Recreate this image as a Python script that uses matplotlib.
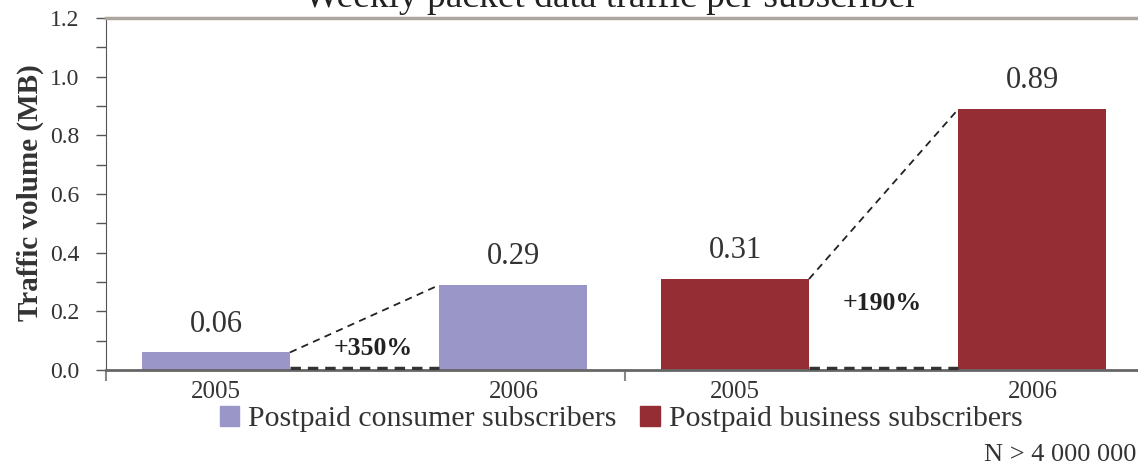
import matplotlib
matplotlib.use('Agg')
import matplotlib.pyplot as plt
from matplotlib.patches import Patch

plt.rcParams['font.family'] = ['Liberation Serif', 'DejaVu Serif']

# data
groups = ['Postpaid consumer subscribers', 'Postpaid business subscribers']
years = ['2005', '2006', '2005', '2006']
values = [0.06, 0.29, 0.31, 0.89]
value_labels = ['0.06', '0.29', '0.31', '0.89']
growth = ['+350%', '+190%']
colors = ['#9b96c8', '#952d35']

# bar layout inside each group (group width = 1)
offsets = [0.212, 0.785]
width = 0.285

fig = plt.figure(figsize=(11.38, 4.69), dpi=100)
ax = fig.add_axes([106 / 1138, 99 / 469, 1038 / 1138, 352 / 469])

xs = []
for g in range(2):
    for o in offsets:
        xs.append(g + o)
bar_colors = [colors[0], colors[0], colors[1], colors[1]]
ax.bar(xs, values, width=width, color=bar_colors, zorder=2)

for x, v, lab in zip(xs, values, value_labels):
    ax.annotate(lab, (x, v), xytext=(0, 15), textcoords='offset points',
                ha='center', va='baseline', fontsize=22, color='#333333')

# dashed connectors and growth labels
growth_pos = [(0.515, 0.075), (1.495, 0.228)]
for g in range(2):
    i0, i1 = 2 * g, 2 * g + 1
    x0 = xs[i0] + width / 2
    x1 = xs[i1] - width / 2
    ax.plot([x0, x1], [values[i0], values[i1]], ls=(0, (4, 3)), lw=1.3,
            color='#222222', zorder=3)
    ax.plot([x0, x1], [0.008, 0.008], ls=(0, (3, 2)), lw=2.5,
            color='#333333', zorder=3)
    gx, gy = growth_pos[g]
    ax.text(gx, gy, growth[g], ha='center', va='center',
            fontsize=18.5, fontweight='bold', color='#222222')

ax.set_xlim(0, 2)
ax.set_ylim(0, 1.2)
ax.set_yticks([0, 0.2, 0.4, 0.6, 0.8, 1.0, 1.2])
ax.set_yticklabels(['0.0', '0.2', '0.4', '0.6', '0.8', '1.0', '1.2'])
ax.set_yticks([0.1, 0.3, 0.5, 0.7, 0.9, 1.1], minor=True)
ax.tick_params(axis='y', which='both', direction='out', length=7, width=1,
               color='#555555', labelsize=17, labelcolor='#333333', pad=12)

ax.set_xticks([0, 1, 2])
ax.set_xticklabels([])
ax.set_xticks(xs, minor=True)
ax.set_xticklabels(years, minor=True)
ax.tick_params(axis='x', which='major', direction='out', length=8, width=1.5,
               color='#888888')
ax.tick_params(axis='x', which='minor', length=0, labelsize=18,
               labelcolor='#333333', pad=8)

ax.spines['right'].set_visible(False)
ax.spines['left'].set_color('#555555')
ax.spines['bottom'].set_color('#666666')
ax.spines['bottom'].set_linewidth(2)
ax.spines['top'].set_color('#aca69f')
ax.spines['top'].set_linewidth(2.5)

fig.text(30 / 1138, 1 - 193 / 469, 'Traffic volume (MB)', rotation=90,
         ha='center', va='center', fontsize=21, fontweight='bold',
         color='#333333')

fig.text(611 / 1138, 1 - 7 / 469, 'Weekly packet data traffic per subscriber',
         ha='center', va='baseline', fontsize=27, color='#222222')

handles = [Patch(color=c) for c in colors]
fig.legend(handles, groups, loc='center', bbox_to_anchor=(621 / 1138, 1 - 419 / 469),
           ncol=2, frameon=False, fontsize=21.5, handlelength=0.65,
           handleheight=0.65, handletextpad=0.3, columnspacing=0.8,
           labelcolor='#333333')

fig.text(1136 / 1138, 1 - 455 / 469, 'N > 4 000 000', ha='right', va='center',
         fontsize=19, color='#333333')

fig.savefig('out.png', dpi=100)
